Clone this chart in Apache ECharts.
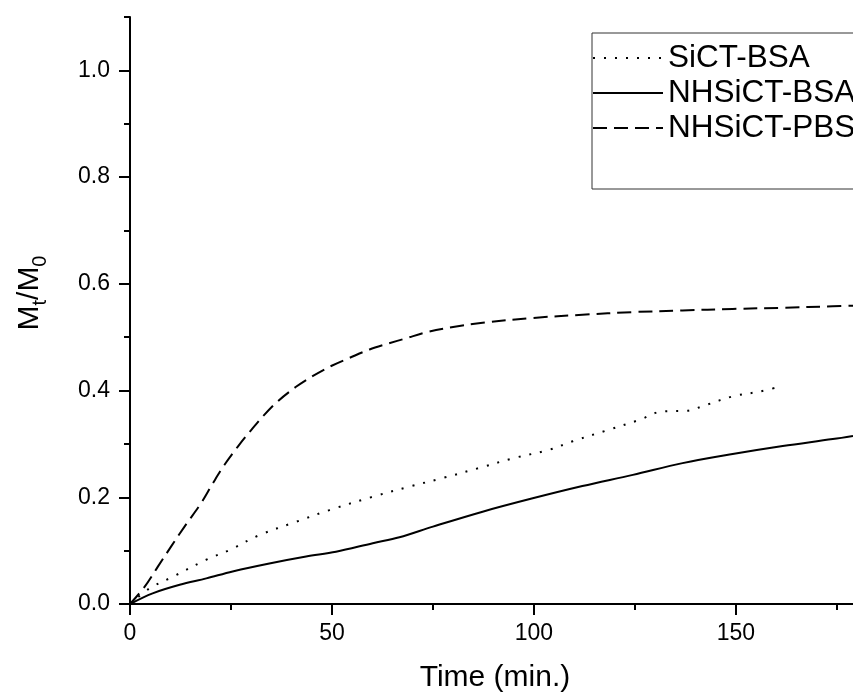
<!DOCTYPE html>
<html>
<head>
<meta charset="utf-8">
<script src="https://cdn.jsdelivr.net/npm/echarts@6/dist/echarts.min.js"></script>
<style>
  html, body { margin: 0; padding: 0; background: #fff; }
  #chart { width: 853px; height: 695px; }
</style>
</head>
<body>
<div id="chart"></div>
<script>
// Release profiles: fraction released (Mt/M0) versus time in minutes
const seriesNames = ['SiCT-BSA', 'NHSiCT-BSA', 'NHSiCT-PBS'];

const sictBsaTime = [0, 4.8, 10.6, 18.9, 24.6, 32, 41.1, 49.4, 60.1, 69.2, 77.4, 86.5, 94.8, 103.8, 109.6, 117.9, 126.1, 131.9, 137.7, 142.6, 149.2, 155.8, 160.8];
const sictBsaValue = [0, 0.029, 0.051, 0.083, 0.101, 0.129, 0.154, 0.176, 0.201, 0.220, 0.236, 0.255, 0.273, 0.289, 0.305, 0.325, 0.345, 0.361, 0.362, 0.373, 0.389, 0.398, 0.407];

const nhBsaTime = [0, 5.6, 12.3, 18.9, 25.4, 34.5, 43.6, 51, 60.1, 66.7, 75, 87.3, 99.7, 112, 124.5, 136.8, 149.2, 161.6, 174, 179];
const nhBsaValue = [0, 0.020, 0.036, 0.048, 0.061, 0.076, 0.089, 0.098, 0.114, 0.125, 0.145, 0.173, 0.198, 0.221, 0.242, 0.264, 0.281, 0.296, 0.309, 0.315];

const nhPbsTime = [0, 3.6, 6.9, 10.2, 13.5, 17.6, 20.5, 23.4, 26.7, 30, 33.3, 36.6, 41.1, 45.2, 49.8, 54.3, 59.3, 63.9, 68.4, 73.3, 80, 87.3, 99.7, 112, 124.5, 136.8, 149.2, 161.6, 174, 179];
const nhPbsValue = [0, 0.032, 0.070, 0.108, 0.145, 0.189, 0.226, 0.261, 0.295, 0.326, 0.355, 0.380, 0.407, 0.427, 0.446, 0.461, 0.477, 0.488, 0.498, 0.509, 0.519, 0.527, 0.536, 0.542, 0.547, 0.550, 0.553, 0.555, 0.558, 0.559];

// Axis ticks
const xMajorTicks = [0, 50, 100, 150];
const xMinorTicks = [25, 75, 125, 175];
const yMajorTicks = [0, 0.2, 0.4, 0.6, 0.8, 1.0];
const yMinorTicks = [0.1, 0.3, 0.5, 0.7, 0.9, 1.1];

const FONT = 'Liberation Sans, Arial, sans-serif';
const pairs = (xs, ys) => xs.map((x, i) => [x, ys[i]]);

const chart = echarts.init(document.getElementById('chart'), null, { renderer: 'canvas' });

const axisBase = {
  type: 'value',
  min: 0,
  splitLine: { show: false },
  axisLine: { show: true, onZero: false, lineStyle: { color: '#000', width: 2 } }
};

const lineSeries = (name, data, dash) => ({
  name, type: 'line', showSymbol: false, symbol: 'none',
  smooth: 0.35,
  lineStyle: { color: '#000', width: 2, type: dash },
  itemStyle: { color: '#000' },
  data
});

chart.setOption({
  animation: false,
  backgroundColor: '#fff',
  grid: { left: 130, right: 0, top: 17, bottom: 91, containLabel: false },
  legend: {
    left: 592,
    top: 33,
    orient: 'vertical',
    align: 'left',
    itemWidth: 70,
    itemHeight: 20,
    itemGap: 3,
    padding: [9, 20, 45, 0],
    borderColor: '#333',
    borderWidth: 1,
    itemStyle: { opacity: 0 },
    textStyle: { fontFamily: FONT, fontSize: 31.5, color: '#000', lineHeight: 30 },
    data: seriesNames
  },
  xAxis: [
    Object.assign({}, axisBase, {
      max: 179,
      axisTick: { show: true, length: 11, lineStyle: { color: '#000', width: 2 }, customValues: xMajorTicks },
      axisLabel: { fontFamily: FONT, fontSize: 23, color: '#000', margin: 18, customValues: xMajorTicks }
    }),
    Object.assign({}, axisBase, {
      max: 179,
      position: 'bottom',
      axisLine: { show: false },
      axisTick: { show: true, length: 6, lineStyle: { color: '#000', width: 2 }, customValues: xMinorTicks },
      axisLabel: { show: false }
    })
  ],
  yAxis: [
    Object.assign({}, axisBase, {
      max: 1.1,
      axisTick: { show: true, length: 11, lineStyle: { color: '#000', width: 2 }, customValues: yMajorTicks },
      axisLabel: { fontFamily: FONT, fontSize: 23, color: '#000', margin: 20, customValues: yMajorTicks,
        formatter: v => v.toFixed(1) }
    }),
    Object.assign({}, axisBase, {
      max: 1.1,
      position: 'left',
      axisLine: { show: false },
      axisTick: { show: true, length: 6, lineStyle: { color: '#000', width: 2 }, customValues: yMinorTicks },
      axisLabel: { show: false }
    })
  ],
  graphic: [
    {
      type: 'text',
      x: 495,
      y: 678,
      style: { text: 'Time (min.)', font: '30px ' + FONT, fill: '#000', align: 'center', verticalAlign: 'middle' }
    },
    {
      type: 'text',
      x: 30,
      y: 293,
      rotation: Math.PI / 2,
      style: {
        text: '{m|M}{s|t}{m|/M}{s|0}',
        align: 'center',
        verticalAlign: 'middle',
        fill: '#000',
        rich: {
          m: { fontFamily: FONT, fontSize: 30, lineHeight: 40, verticalAlign: 'middle', fill: '#000' },
          s: { fontFamily: FONT, fontSize: 20, lineHeight: 14, verticalAlign: 'bottom', fill: '#000' }
        }
      }
    }
  ],
  series: [
    lineSeries(seriesNames[0], pairs(sictBsaTime, sictBsaValue), [2, 9]),
    lineSeries(seriesNames[1], pairs(nhBsaTime, nhBsaValue), 'solid'),
    lineSeries(seriesNames[2], pairs(nhPbsTime, nhPbsValue), [14, 7])
  ]
});
</script>
</body>
</html>
